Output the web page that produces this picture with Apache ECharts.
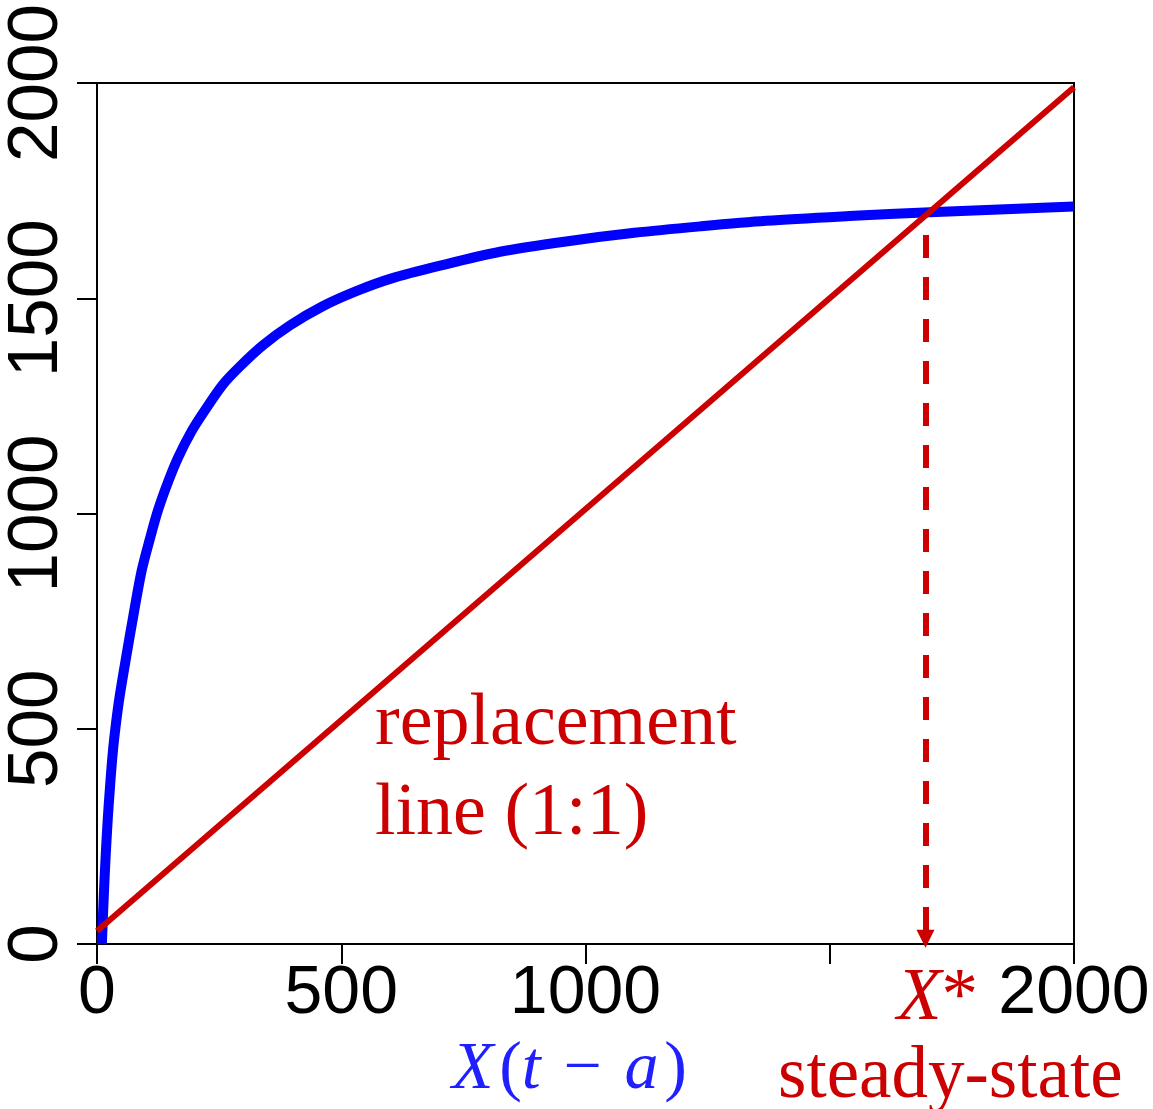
<!DOCTYPE html>
<html>
<head>
<meta charset="utf-8">
<script src="https://cdn.jsdelivr.net/npm/echarts@6/dist/echarts.min.js"></script>
<style>
html,body{margin:0;padding:0;background:#fff;}
#c{width:1153px;height:1109px;}
</style>
</head>
<body>
<div id="c"></div>
<script>
// Stock X(t-a) values and recruitment values
var curveX = [10, 12, 15, 18, 22, 26, 30, 35, 45, 61, 74, 91, 108, 125, 146, 166, 194, 221, 258, 293, 340, 395, 463, 532, 600, 700, 825, 960, 1100, 1235, 1370, 1540, 1705, 1885, 2000];
var curveY = [0, 60, 140, 210, 290, 355, 415, 475, 565, 675, 760, 865, 940, 1008, 1075, 1130, 1192, 1240, 1300, 1342, 1391, 1437, 1482, 1517, 1545, 1575, 1608, 1632, 1652, 1667, 1680, 1691, 1700, 1708, 1713];
// replacement line end points
var lineX = [0, 2000];
var lineY = [30, 1990];
// steady state
var steadyX = 1696;
var steadyTopY = 1647;
// ticks
var xTicks = [0, 500, 1000, 1500, 2000];
var xTickLabels = ['0', '500', '1000', '', '2000'];
var yTicks = [0, 500, 1000, 1500, 2000];
var yTickLabels = ['0', '500', '1000', '1500', '2000'];

var RED = '#cc0000';
var BLUE = '#0000ff';
var TEXTBLUE = '#2020ff';

var curveData = curveX.map(function (x, i) { return [x, curveY[i]]; });
var lineData = lineX.map(function (x, i) { return [x, lineY[i]]; });

var chart = echarts.init(document.getElementById('c'), null, {renderer: 'canvas'});
chart.setOption({
  animation: false,
  backgroundColor: '#fff',
  grid: {
    left: 97, right: 79, top: 83, bottom: 165, containLabel: false, outerBoundsMode: 'none',
    show: true, borderColor: '#000', borderWidth: 2, backgroundColor: 'transparent'
  },
  xAxis: {
    type: 'value', min: 0, max: 2000, interval: 500,
    axisLine: {show: true, lineStyle: {color: '#000', width: 2}},
    axisTick: {show: true, length: 20, lineStyle: {color: '#000', width: 2}},
    splitLine: {show: false},
    axisLabel: {
      margin: 16, color: '#000', fontFamily: 'Liberation Sans', fontSize: 68,
      formatter: function (v) { var i = xTicks.indexOf(v); return i >= 0 ? xTickLabels[i] : ''; }
    }
  },
  yAxis: {
    type: 'value', min: 0, max: 2000, interval: 500,
    axisLine: {show: true, lineStyle: {color: '#000', width: 2}},
    axisTick: {show: true, length: 20, lineStyle: {color: '#000', width: 2}},
    splitLine: {show: false},
    axisLabel: {
      rotate: 90, margin: 24, color: '#000', fontFamily: 'Liberation Sans', fontSize: 71,
      align: 'center', verticalAlign: 'bottom',
      formatter: function (v) { var i = yTicks.indexOf(v); return i >= 0 ? yTickLabels[i] : ''; }
    }
  },
  series: [
    {
      type: 'line', data: curveData, showSymbol: false, symbol: 'none', smooth: 0.3,
      lineStyle: {color: BLUE, width: 10, cap: 'butt'}, z: 2, silent: true
    },
    {
      type: 'line', data: lineData, showSymbol: false, symbol: 'none',
      lineStyle: {color: RED, width: 6}, z: 3, silent: true,
      markLine: {
        silent: true, symbol: ['none', 'triangle'], symbolSize: [18, 18],
        label: {show: false},
        lineStyle: {color: RED, width: 6, type: [23, 19]},
        data: [[{coord: [steadyX, steadyTopY]}, {coord: [steadyX, 12]}]]
      }
    }
  ],
  graphic: [
    {
      type: 'text', left: 375, top: 680, silent: true,
      style: {text: 'replacement\nline (1:1)', fill: RED, font: '74px "Liberation Serif"', lineHeight: 90}
    },
    {
      type: 'text', left: 897, top: 963, silent: true,
      style: {
        text: '{i|X}{u|*}',
        rich: {
          i: {fill: RED, fontFamily: 'Liberation Serif', fontStyle: 'italic', fontSize: 73},
          u: {fill: RED, fontFamily: 'Liberation Serif', fontSize: 73}
        }
      }
    },
    {
      type: 'text', left: 778, top: 1041, silent: true,
      style: {text: 'steady-state', fill: RED, font: '73px "Liberation Serif"'}
    },
    {
      type: 'text', left: 452, top: 1036, silent: true,
      style: {
        text: '{i|X}{u|\u200A(}{i|t}{u|\u2004\u2212\u2004}{i|a}{u|\u200A)}',
        rich: {
          i: {fill: TEXTBLUE, fontFamily: 'Liberation Serif', fontStyle: 'italic', fontSize: 68},
          u: {fill: TEXTBLUE, fontFamily: 'Liberation Serif', fontSize: 68}
        }
      }
    }
  ]
});
</script>
</body>
</html>
